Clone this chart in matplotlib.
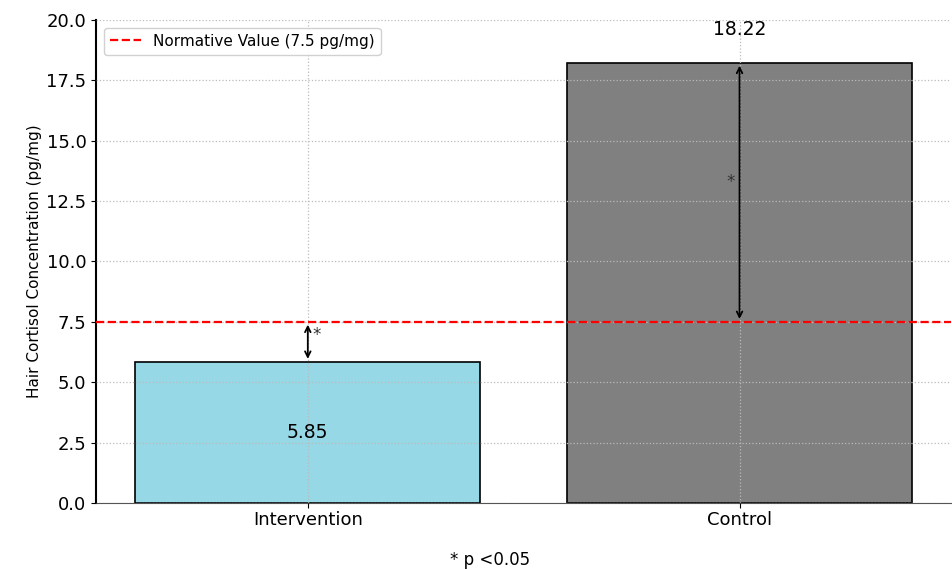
import numpy as np
import matplotlib
matplotlib.use("Agg")
import matplotlib.pyplot as plt

groups = ["Intervention", "Control"]
cortisol = [5.85, 18.22]
bar_colors = ["#96d8e6", "#808080"]
normative = 7.5

fig = plt.figure(figsize=(9.53, 5.69), dpi=100)
ax = fig.add_axes([0.101, 0.116, 0.897, 0.849])

x = np.arange(len(groups))
ax.bar(x, cortisol, width=0.8, color=bar_colors, edgecolor="black", linewidth=1.2, zorder=2)

ax.axhline(normative, color="red", linestyle="--", linewidth=1.6, zorder=4,
           label="Normative Value (7.5 pg/mg)")

# difference arrows from the normative value
for xi, val in zip(x, cortisol):
    ax.annotate("", xy=(xi, val), xytext=(xi, normative),
                arrowprops=dict(arrowstyle="<->", color="black", lw=1.3), zorder=5)

ax.text(x[0] + 0.01, 6.95, "*", fontsize=12, color="#333", ha="left", va="center")
ax.text(x[1] - 0.01, 13.3, "*", fontsize=12, color="#333", ha="right", va="center")

# value labels
ax.text(x[0], cortisol[0] / 2, f"{cortisol[0]:.2f}", ha="center", va="center", fontsize=13.5)
ax.text(x[1], cortisol[1] + 1.4, f"{cortisol[1]:.2f}", ha="center", va="center", fontsize=13.5)

ax.set_ylim(0, 20)
ax.set_xlim(-0.49, 1.49)
ax.set_yticks(np.arange(0, 20.1, 2.5))
ax.set_xticks(x)
ax.set_xticklabels(groups, fontsize=13)
ax.tick_params(axis="y", labelsize=13)
ax.tick_params(axis="x", pad=2)
ax.set_ylabel("Hair Cortisol Concentration (pg/mg)", fontsize=11, labelpad=3)

ax.grid(True, linestyle=":", color="#bbbbbb", linewidth=0.9, zorder=3)
ax.set_axisbelow(False)
for line in ax.get_xgridlines() + ax.get_ygridlines():
    line.set_zorder(3)

ax.spines["top"].set_visible(False)
ax.spines["right"].set_visible(False)
ax.spines["left"].set_linewidth(1.5)
ax.spines["bottom"].set_color("#555")

ax.legend(loc="upper left", fontsize=11, framealpha=0.9)

fig.text(0.514, 0.016, "* p <0.05", ha="center", va="center", fontsize=12)

plt.savefig("out.png", dpi=100)
